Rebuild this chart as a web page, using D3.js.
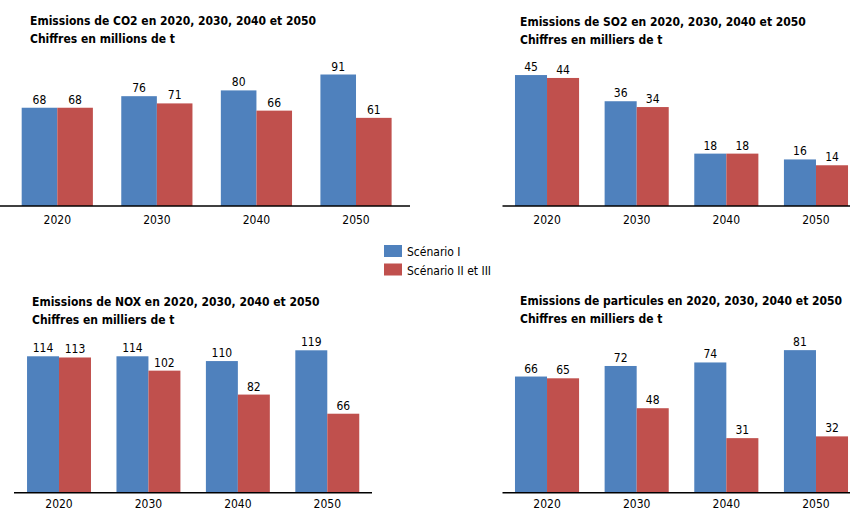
<!doctype html>
<html lang="fr">
	<head>
		<meta charset="UTF-8" />
		<title>Emissions 2020-2050</title>
		<script src="https://d3js.org/d3.v7.min.js"></script>
		<style>
			body {
				margin: 0;
				background: #fff;
			}
			svg text {
				font-family: 'DejaVu Sans Condensed', 'DejaVu Sans', sans-serif;
				fill: #000;
			}
			.title {
				font-weight: bold;
				font-size: 12px;
			}
			.val,
			.tick,
			.leg {
				font-size: 12px;
			}
			.axis {
				stroke: #000;
				stroke-width: 1.5px;
			}
		</style>
	</head>
	<body>
		<svg width="850" height="511"></svg>
		<script>
			const years = ['2020', '2030', '2040', '2050']
			const series = ['Scénario I', 'Scénario II et III']
			const colors = ['#4f81bd', '#c0504d']

			const co2 = [
				[68, 76, 80, 91],
				[68, 71, 66, 61],
			]
			const so2 = [
				[45, 36, 18, 16],
				[44, 34, 18, 14],
			]
			const nox = [
				[114, 114, 110, 119],
				[113, 102, 82, 66],
			]
			const particules = [
				[66, 72, 74, 81],
				[65, 48, 31, 32],
			]

			const svg = d3.select('svg')

			const panels = [
				{
					title: ['Emissions de CO2 en 2020, 2030, 2040 et 2050', 'Chiffres en millions de t'],
					data: co2,
					tx: 30, ty: 25,
					range: [7.5, 405.8], line: [0, 410],
					base: 206, yMax: 100, h: 144.5, tickDy: 18,
				},
				{
					title: ['Emissions de SO2 en 2020, 2030, 2040 et 2050', 'Chiffres en milliers de t'],
					data: so2,
					tx: 520, ty: 26,
					range: [502.2, 860.8], line: [502.5, 850],
					base: 206, yMax: 50, h: 145.5, tickDy: 18,
				},
				{
					title: ['Emissions de NOX en 2020, 2030, 2040 et 2050', 'Chiffres en milliers de t'],
					data: nox,
					tx: 32, ty: 306,
					range: [14.3, 372], line: [14, 372],
					base: 492.7, yMax: 120, h: 143.6, tickDy: 15,
				},
				{
					title: ['Emissions de particules en 2020, 2030, 2040 et 2050', 'Chiffres en milliers de t'],
					data: particules,
					tx: 520, ty: 305,
					range: [502.2, 860.8], line: [502.5, 850],
					base: 492.7, yMax: 90, h: 158.4, tickDy: 15,
				},
			]

			panels.forEach((p) => {
				const g = svg.append('g')

				g.selectAll('text.title')
					.data(p.title)
					.join('text')
					.attr('class', 'title')
					.attr('x', p.tx)
					.attr('y', (d, i) => p.ty + i * 18)
					.text((d) => d)

				const x = d3.scaleBand().domain(years).range(p.range).paddingInner(0.285).paddingOuter(0.1425)
				const xs = d3.scaleBand().domain(d3.range(series.length)).range([0, x.bandwidth()])
				const y = d3.scaleLinear().domain([0, p.yMax]).range([p.base, p.base - p.h])

				const rows = years.map((yr, i) => ({ yr, vals: p.data.map((s) => s[i]) }))

				const grp = g
					.selectAll('g.grp')
					.data(rows)
					.join('g')
					.attr('class', 'grp')
					.attr('transform', (d) => `translate(${x(d.yr)},0)`)

				grp.selectAll('rect')
					.data((d) => d.vals)
					.join('rect')
					.attr('x', (d, i) => xs(i))
					.attr('width', xs.bandwidth())
					.attr('y', (d) => y(d))
					.attr('height', (d) => y(0) - y(d))
					.attr('fill', (d, i) => colors[i])

				grp.selectAll('text.val')
					.data((d) => d.vals)
					.join('text')
					.attr('class', 'val')
					.attr('text-anchor', 'middle')
					.attr('x', (d, i) => xs(i) + xs.bandwidth() / 2)
					.attr('y', (d) => y(d) - 4)
					.text((d) => d)

				g.append('line')
					.attr('class', 'axis')
					.attr('x1', p.line[0])
					.attr('x2', p.line[1])
					.attr('y1', p.base)
					.attr('y2', p.base)

				g.selectAll('text.tick')
					.data(years)
					.join('text')
					.attr('class', 'tick')
					.attr('text-anchor', 'middle')
					.attr('x', (d) => x(d) + x.bandwidth() / 2)
					.attr('y', p.base + p.tickDy)
					.text((d) => d)
			})

			// legend in the middle
			const leg = svg
				.append('g')
				.selectAll('g')
				.data(series)
				.join('g')
				.attr('transform', (d, i) => `translate(384,${245 + i * 18.5})`)

			leg.append('rect')
				.attr('width', 18)
				.attr('height', 12)
				.attr('fill', (d, i) => colors[i])

			leg.append('text')
				.attr('class', 'leg')
				.attr('x', 23)
				.attr('y', 11)
				.text((d) => d)
		</script>
	</body>
</html>
